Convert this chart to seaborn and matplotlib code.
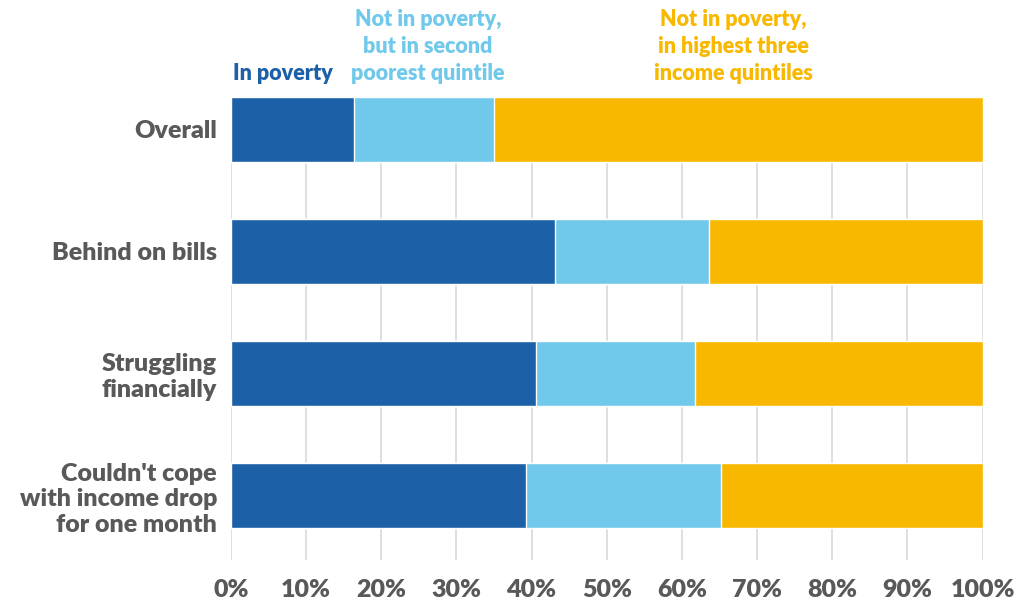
import matplotlib
matplotlib.use("Agg")
import matplotlib.pyplot as plt
import seaborn as sns
import pandas as pd
import numpy as np

categories = ["Overall", "Behind on bills", "Struggling\nfinancially",
              "Couldn't cope\nwith income drop\nfor one month"]
in_poverty = [16.4, 43.1, 40.6, 39.2]
second_quintile = [18.6, 20.5, 21.1, 26.0]
top_three = [65.0, 36.4, 38.3, 34.8]
series_names = ["In poverty", "Not in poverty,\nbut in second\npoorest quintile",
                "Not in poverty,\nin highest three\nincome quintiles"]
colors = ["#1C60A8", "#70C9EA", "#F9B800"]

sns.set_style("white")
plt.rcParams["font.family"] = ["Lato", "DejaVu Sans"]
plt.rcParams["font.weight"] = "bold"

df = pd.DataFrame({"cat": categories, "a": in_poverty,
                   "b": second_quintile, "c": top_three})
df["cum_a"] = df["a"]
df["cum_b"] = df["a"] + df["b"]
df["cum_c"] = df["cum_b"] + df["c"]

fig = plt.figure(figsize=(10.31, 6.07), dpi=100)
ax = fig.add_axes([0.224, 0.0774, 0.729, 0.763])

# stacked: draw totals first, then overlay shorter cumulative bars
for col, color in zip(["cum_c", "cum_b", "cum_a"], colors[::-1]):
    sns.barplot(data=df, x=col, y="cat", color=color, orient="h",
                width=0.53, saturation=1, edgecolor="white", linewidth=1,
                ax=ax, zorder=3)

ax.set_xlim(0, 100)
ax.set_ylim(3.53, -0.265)
ax.set_xticks(np.arange(0, 101, 10))
ax.set_xticklabels([f"{v}%" for v in range(0, 101, 10)])
ax.grid(axis="x", color="#D9D9D9", linewidth=1.2, zorder=0)
ax.set_axisbelow(True)
for s in ax.spines.values():
    s.set_visible(False)
ax.set_xlabel("")
ax.set_ylabel("")
ax.tick_params(axis="x", length=0, pad=14, labelsize=18, colors="#595959")
ax.tick_params(axis="y", length=0, pad=10, labelsize=18, colors="#595959")
for lbl in ax.get_xticklabels() + ax.get_yticklabels():
    lbl.set_fontweight("heavy")
for lbl in ax.get_yticklabels():
    lbl.set_linespacing(1.2)

# series labels above the Overall bar
starts = [0, in_poverty[0], in_poverty[0] + second_quintile[0]]
widths = [in_poverty[0], second_quintile[0], top_three[0]]
offsets = [-1.3, 0.5, -0.7]
for s, w, name, color, off in zip(starts, widths, series_names, colors, offsets):
    ax.text(s + w / 2 + off, -0.37, name, ha="center", va="bottom",
            color=color, fontsize=15.5, fontweight="heavy", linespacing=1.35,
            clip_on=False)

fig.savefig("out.png", dpi=100)
